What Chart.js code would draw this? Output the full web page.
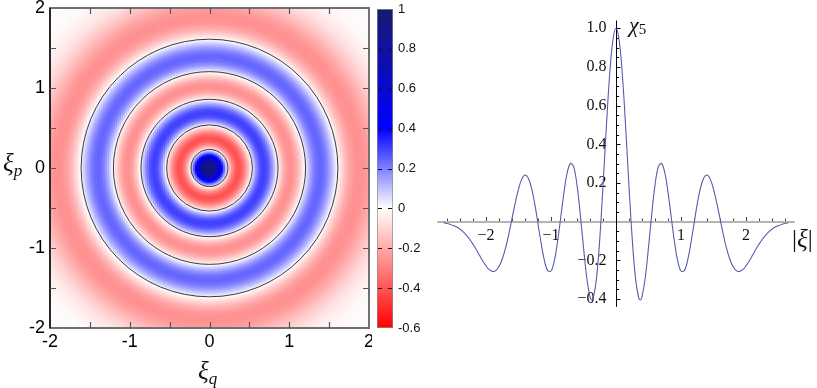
<!DOCTYPE html>
<html>
<head>
<meta charset="utf-8">
<script src="https://cdn.jsdelivr.net/npm/chart.js@4.4.1/dist/chart.umd.min.js"></script>
<style>
  body { margin: 0; background: #fff; width: 817px; height: 388px; position: relative; overflow: hidden; }
  canvas { position: absolute; top: 0; }
  #map { left: 0; }
  #bar { left: 370px; }
  #line { left: 420px; }
  .lbl { position: absolute; z-index: 5; line-height: 1; white-space: nowrap; color: #111; }
  .xi { font-family: "Liberation Serif", serif; font-style: italic; }
</style>
</head>
<body>
<canvas id="map" width="372" height="388"></canvas>
<canvas id="bar" width="60" height="388"></canvas>
<canvas id="line" width="397" height="388"></canvas>

<div class="lbl xi" style="left:198px; top:358px; font-size:25px;">ξ<span style="font-size:17px; position:relative; top:5px;">q</span></div>
<div class="lbl xi" style="left:3px; top:150px; font-size:25px;">ξ<span style="font-size:17px; position:relative; top:5px;">p</span></div>
<div class="lbl xi" style="left:629px; top:14px; font-size:22px;">χ<span style="font-style:normal; font-size:15px; position:relative; top:2px;">5</span></div>
<div class="lbl" style="left:792px; top:226px; font-size:25px; font-family:'Liberation Serif', serif;">|<span style="font-style:italic;">ξ</span>|</div>

<script>
// χ5 against |ξ| (the left map is the same function of radius)
const radius = [0, 0.05, 0.1, 0.15, 0.2, 0.25, 0.3, 0.35, 0.375, 0.4, 0.45, 0.5, 0.55, 0.6, 0.65, 0.7,
  0.75, 0.8, 0.85, 0.9, 0.95, 1.0, 1.05, 1.1, 1.15, 1.2, 1.25, 1.3, 1.35, 1.4, 1.45, 1.5, 1.55, 1.6,
  1.65, 1.7, 1.75, 1.8, 1.85, 1.9, 1.95, 2.0, 2.05, 2.1, 2.15, 2.2, 2.25, 2.3, 2.35, 2.4, 2.45, 2.5,
  2.55, 2.6, 2.65];
const chi5 = [1, 0.934, 0.749, 0.482, 0.184, -0.091, -0.293, -0.395, -0.405, -0.389, -0.290, -0.133,
  0.040, 0.189, 0.283, 0.301, 0.255, 0.153, 0.023, -0.105, -0.204, -0.255, -0.254, -0.202, -0.115,
  -0.011, 0.092, 0.175, 0.226, 0.241, 0.220, 0.168, 0.097, 0.016, -0.065, -0.137, -0.193, -0.232,
  -0.253, -0.257, -0.248, -0.228, -0.203, -0.174, -0.144, -0.117, -0.092, -0.071, -0.053, -0.039,
  -0.028, -0.020, -0.014, -0.009, -0.006];

// zero lines drawn on the map
const contourRadii = [0.232, 0.538, 0.859, 1.205, 1.61];

// tick labels
const mapTicks = [-2, -1.5, -1, -0.5, 0, 0.5, 1, 1.5, 2];
const mapLabels = [-2, -1, 0, 1, 2];
const barTicks = [-0.6, -0.4, -0.2, 0, 0.2, 0.4, 0.6, 0.8, 1];
const lineXLabels = [-2, -1, 1, 2];
const lineYLabels = [-0.4, -0.2, 0.2, 0.4, 0.6, 0.8, 1.0];

// colour scale: red - white - blue - navy
const colourStops = [[-0.6, [255, 0, 0]], [0, [255, 255, 255]], [0.4, [0, 0, 255]], [1, [25, 25, 112]]];

function colourFor(v) {
  if (v <= colourStops[0][0]) return 'rgb(' + colourStops[0][1] + ')';
  for (let i = 1; i < colourStops.length; i++) {
    const [v1, c1] = colourStops[i];
    if (v <= v1) {
      const [v0, c0] = colourStops[i - 1];
      const t = (v - v0) / (v1 - v0);
      return 'rgb(' + c0.map((c, k) => Math.round(c + t * (c1[k] - c))).join(',') + ')';
    }
  }
  return 'rgb(' + colourStops[colourStops.length - 1][1] + ')';
}

function chiAt(r) {
  if (r >= radius[radius.length - 1]) return chi5[chi5.length - 1];
  let i = 1;
  while (radius[i] < r) i++;
  const t = (r - radius[i - 1]) / (radius[i] - radius[i - 1]);
  return chi5[i - 1] + t * (chi5[i] - chi5[i - 1]);
}

const sansFont = '"Liberation Sans", Arial, sans-serif';
const serifFont = '"Liberation Serif", "Times New Roman", serif';

// ---------- left: map of χ5 over (ξq, ξp) ----------
const cellStep = 0.025;
const cells = [];
const cellColours = [];
for (let qx = -2 + cellStep / 2; qx < 2; qx += cellStep) {
  for (let py = -2 + cellStep / 2; py < 2; py += cellStep) {
    cells.push({ x: qx, y: py });
    cellColours.push(colourFor(chiAt(Math.hypot(qx, py))));
  }
}

const mapFrame = {
  id: 'mapFrame',
  afterDatasetsDraw(chart) {
    const { ctx, chartArea: a, scales: { x, y } } = chart;
    ctx.save();
    // zero contours
    const cx = x.getPixelForValue(0), cy = y.getPixelForValue(0);
    ctx.strokeStyle = '#3a3a3a';
    ctx.lineWidth = 1;
    contourRadii.forEach(r => {
      ctx.beginPath();
      ctx.ellipse(cx, cy, x.getPixelForValue(r) - cx, cy - y.getPixelForValue(r), 0, 0, Math.PI * 2);
      ctx.stroke();
    });
    // frame
    ctx.strokeStyle = '#707070';
    ctx.lineWidth = 2;
    ctx.strokeRect(a.left, a.top, a.right - a.left, a.bottom - a.top);
    ctx.strokeStyle = '#111';
    ctx.lineWidth = 1.5;
    ctx.beginPath(); ctx.moveTo(a.left, a.top); ctx.lineTo(a.left, a.bottom); ctx.stroke();
    // inward ticks
    ctx.strokeStyle = '#555';
    ctx.lineWidth = 1.2;
    const len = 6;
    ctx.beginPath();
    mapTicks.slice(1, -1).forEach(v => {
      const px = Math.round(x.getPixelForValue(v)) + 0.5;
      ctx.moveTo(px, a.bottom); ctx.lineTo(px, a.bottom - len);
      ctx.moveTo(px, a.top); ctx.lineTo(px, a.top + len);
      const py = Math.round(y.getPixelForValue(v)) + 0.5;
      ctx.moveTo(a.left, py); ctx.lineTo(a.left + len, py);
      ctx.moveTo(a.right, py); ctx.lineTo(a.right - len, py);
    });
    ctx.stroke();
    ctx.restore();
  }
};

new Chart(document.getElementById('map'), {
  type: 'scatter',
  data: {
    datasets: [{
      data: cells,
      backgroundColor: cellColours,
      borderColor: cellColours,
      borderWidth: 0.6,
      pointStyle: 'rect',
      pointRadius: ctx => {
        const s = ctx.chart.scales.x;
        return Math.abs(s.getPixelForValue(cellStep) - s.getPixelForValue(0)) * 0.9;
      },
      clip: 0
    }]
  },
  options: {
    responsive: false,
    animation: false,
    events: [],
    layout: { padding: { top: 8, right: 3 } },
    plugins: { legend: { display: false }, tooltip: { enabled: false } },
    scales: {
      x: {
        type: 'linear', min: -2, max: 2,
        afterBuildTicks: s => { s.ticks = mapTicks.map(v => ({ value: v })); },
        afterFit: s => { s.height = 60; s.paddingLeft = 0; s.paddingRight = 0; },
        grid: { display: false, drawTicks: false },
        border: { display: false },
        ticks: {
          autoSkip: false, maxRotation: 0, padding: 3, color: '#000',
          font: { family: sansFont, size: 18 },
          callback: v => mapLabels.includes(v) ? String(v) : ''
        }
      },
      y: {
        type: 'linear', min: -2, max: 2,
        afterBuildTicks: s => { s.ticks = mapTicks.map(v => ({ value: v })); },
        afterFit: s => { s.width = 50; s.paddingTop = 0; s.paddingBottom = 0; },
        grid: { display: false, drawTicks: false },
        border: { display: false },
        ticks: {
          autoSkip: false, padding: 5, color: '#000',
          font: { family: sansFont, size: 18 },
          callback: v => mapLabels.includes(v) ? String(v) : ''
        }
      }
    }
  },
  plugins: [mapFrame]
});

// ---------- colour bar ----------
const barMin = barTicks[0], barMax = barTicks[barTicks.length - 1];

const barDashes = {
  id: 'barDashes',
  afterDatasetsDraw(chart) {
    const { ctx, chartArea: a, scales: { y } } = chart;
    ctx.save();
    ctx.strokeStyle = '#111';
    ctx.lineWidth = 1;
    ctx.beginPath();
    barTicks.slice(1, -1).forEach(v => {
      const py = Math.round(y.getPixelForValue(v)) + 0.5;
      ctx.moveTo(a.left + 1, py); ctx.lineTo(a.left + 5, py);
      ctx.moveTo(a.right - 1, py); ctx.lineTo(a.right - 5, py);
    });
    ctx.stroke();
    ctx.restore();
  }
};

new Chart(document.getElementById('bar'), {
  type: 'bar',
  data: {
    labels: ['χ5'],
    datasets: [{
      data: [[barMin, barMax]],
      backgroundColor: ctx => {
        const { chartArea, scales } = ctx.chart;
        if (!chartArea) return '#fff';
        const g = ctx.chart.ctx.createLinearGradient(0, scales.y.getPixelForValue(barMin), 0, scales.y.getPixelForValue(barMax));
        colourStops.forEach(([v, c]) => g.addColorStop((v - barMin) / (barMax - barMin), 'rgb(' + c + ')'));
        return g;
      },
      borderColor: '#8a8a8a',
      borderWidth: 1,
      borderSkipped: false,
      barPercentage: 1,
      categoryPercentage: 1
    }]
  },
  options: {
    responsive: false,
    animation: false,
    events: [],
    layout: { padding: { left: 7, top: 9, bottom: 60 } },
    plugins: { legend: { display: false }, tooltip: { enabled: false } },
    scales: {
      x: { display: false },
      y: {
        position: 'right', min: barMin, max: barMax,
        afterBuildTicks: s => { s.ticks = barTicks.map(v => ({ value: v })); },
        afterFit: s => { s.width = 37; s.paddingTop = 0; s.paddingBottom = 0; },
        grid: { display: false, drawTicks: false },
        border: { display: false },
        ticks: {
          padding: 5, color: '#111',
          font: { family: sansFont, size: 13 },
          callback: v => String(+v.toFixed(1))
        }
      }
    }
  },
  plugins: [barDashes]
});

// ---------- right: χ5 against |ξ| ----------
const curve = [];
for (let i = radius.length - 1; i > 0; i--) curve.push({ x: -radius[i], y: chi5[i] });
for (let i = 0; i < radius.length; i++) curve.push({ x: radius[i], y: chi5[i] });

const minus = s => s.replace('-', '\u2212');

const crossAxes = {
  id: 'crossAxes',
  beforeDatasetsDraw(chart) {
    const { ctx, chartArea: a, scales: { x, y } } = chart;
    const x0 = Math.round(x.getPixelForValue(0)) + 0.5;
    const y0 = Math.round(y.getPixelForValue(0));
    ctx.save();
    // horizontal axis
    ctx.strokeStyle = '#b4b4b4';
    ctx.lineWidth = 2;
    ctx.beginPath(); ctx.moveTo(a.left, y0); ctx.lineTo(a.right, y0); ctx.stroke();
    ctx.strokeStyle = '#444';
    ctx.lineWidth = 1;
    ctx.beginPath();
    for (let k = -13; k <= 13; k++) {
      if (k === 0) continue;
      const px = Math.round(x.getPixelForValue(k * 0.2)) + 0.5;
      const len = k % 5 === 0 ? 4 : 2.5;
      ctx.moveTo(px, y0 - 1); ctx.lineTo(px, y0 - 1 - len);
    }
    ctx.stroke();
    // vertical axis
    ctx.strokeStyle = '#000';
    ctx.beginPath(); ctx.moveTo(x0, a.top); ctx.lineTo(x0, a.bottom); ctx.stroke();
    ctx.beginPath();
    for (let k = -8; k <= 20; k++) {
      if (k === 0) continue;
      const py = Math.round(y.getPixelForValue(k * 0.05)) + 0.5;
      const len = k % 4 === 0 ? 4 : 2.5;
      ctx.moveTo(x0, py); ctx.lineTo(x0 + len, py);
    }
    ctx.stroke();
    // labels
    ctx.fillStyle = '#111';
    ctx.font = '16px ' + serifFont;
    ctx.textAlign = 'right';
    ctx.textBaseline = 'middle';
    lineYLabels.forEach(v => ctx.fillText(minus(v.toFixed(1)), x0 - 10, y.getPixelForValue(v)));
    ctx.textAlign = 'center';
    lineXLabels.forEach(v => ctx.fillText(minus(String(v)), x.getPixelForValue(v), y0 + 14));
    ctx.restore();
  }
};

new Chart(document.getElementById('line'), {
  type: 'scatter',
  data: {
    datasets: [{
      data: curve,
      showLine: true,
      borderColor: 'rgb(88, 90, 175)',
      borderWidth: 1.1,
      pointRadius: 0,
      tension: 0.35,
      fill: false
    }]
  },
  options: {
    responsive: false,
    animation: false,
    events: [],
    layout: { padding: { left: 17.25, right: 22.25, top: 20.5, bottom: 81.2 } },
    plugins: { legend: { display: false }, tooltip: { enabled: false } },
    scales: {
      x: { type: 'linear', min: -2.75, max: 2.75, display: false },
      y: { type: 'linear', min: -0.44, max: 1.04, display: false }
    }
  },
  plugins: [crossAxes]
});
</script>
</body>
</html>
